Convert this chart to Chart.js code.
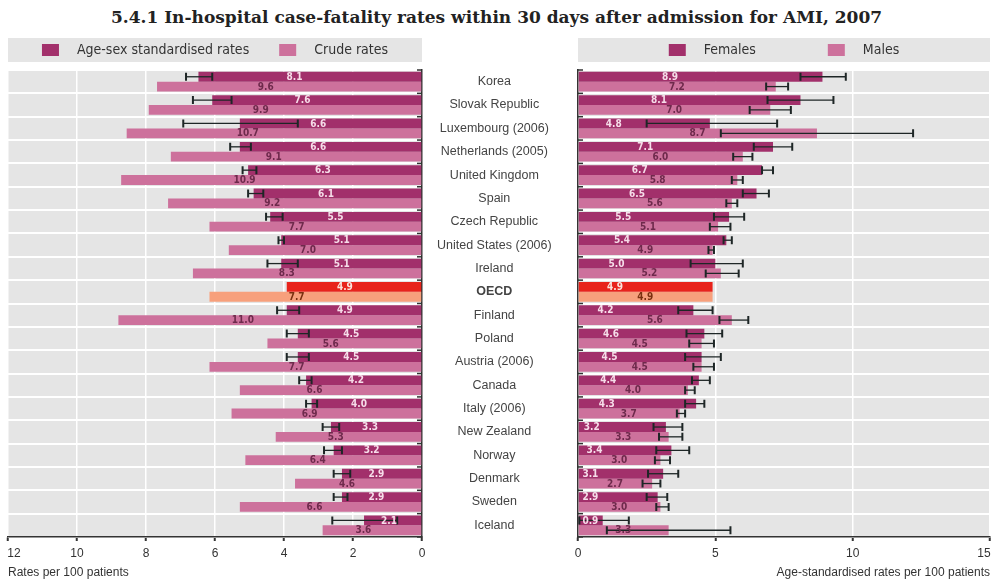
<!DOCTYPE html>
<html>
<head>
<meta charset="utf-8">
<script src="https://cdn.jsdelivr.net/npm/chart.js@4.4.1/dist/chart.umd.min.js"></script>
<style>
body { margin: 0; background: #fff; width: 993px; height: 583px; position: relative; overflow: hidden; }
#title { position: absolute; left: 0; top: 7px; width: 993px; text-align: center; font: bold 17px 'DejaVu Serif', serif; color: #222; }
#left { position: absolute; left: 0; top: 30px; }
#right { position: absolute; left: 570px; top: 30px; }
</style>
</head>
<body>
<div id="title">5.4.1 In-hospital case-fatality rates within 30 days after admission for AMI, 2007</div>
<canvas id="left" width="578" height="553"></canvas>
<canvas id="right" width="423" height="553"></canvas>
<script>
// data
const countries = ['Korea', 'Slovak Republic', 'Luxembourg (2006)', 'Netherlands (2005)', 'United Kingdom', 'Spain',
    'Czech Republic', 'United States (2006)', 'Ireland', 'OECD', 'Finland', 'Poland', 'Austria (2006)', 'Canada',
    'Italy (2006)', 'New Zealand', 'Norway', 'Denmark', 'Sweden', 'Iceland'];

const stdRates = [8.1, 7.6, 6.6, 6.6, 6.3, 6.1, 5.5, 5.1, 5.1, 4.9, 4.9, 4.5, 4.5, 4.2, 4.0, 3.3, 3.2, 2.9, 2.9, 2.1];
const stdLow = [7.6, 6.9, 4.5, 6.2, 6.0, 5.75, 5.05, 5.0, 4.5, null, 4.45, 4.1, 4.1, 4.0, 3.8, 3.0, 2.9, 2.6, 2.7, 0.9];
const stdHigh = [8.55, 8.3, 8.65, 6.95, 6.5, 6.3, 5.65, 5.2, 5.6, null, 5.25, 4.9, 4.9, 4.45, 4.2, 3.6, 3.55, 3.2, 3.2, 3.25];
const crudeRates = [9.6, 9.9, 10.7, 9.1, 10.9, 9.2, 7.7, 7.0, 8.3, 7.7, 11.0, 5.6, 7.7, 6.6, 6.9, 5.3, 6.4, 4.6, 6.6, 3.6];

const females = [8.9, 8.1, 4.8, 7.1, 6.7, 6.5, 5.5, 5.4, 5.0, 4.9, 4.2, 4.6, 4.5, 4.4, 4.3, 3.2, 3.4, 3.1, 2.9, 0.9];
const femLow = [8.1, 6.9, 2.5, 6.4, 6.7, 6.0, 4.95, 5.3, 4.1, null, 3.65, 3.95, 3.9, 4.15, 3.9, 2.75, 2.85, 2.55, 2.5, 0.05];
const femHigh = [9.75, 9.3, 7.25, 7.8, 7.1, 6.95, 6.05, 5.6, 6.0, null, 4.9, 5.25, 5.2, 4.8, 4.6, 3.8, 4.05, 3.65, 3.25, 1.85];
const males = [7.2, 7.0, 8.7, 6.0, 5.8, 5.6, 5.1, 4.9, 5.2, 4.9, 5.6, 4.5, 4.5, 4.0, 3.7, 3.3, 3.0, 2.7, 3.0, 3.3];
const maleLow = [6.85, 6.25, 5.2, 5.65, 5.6, 5.4, 4.8, 4.75, 4.65, null, 5.15, 4.05, 4.2, 3.9, 3.6, 2.95, 2.8, 2.35, 2.85, 1.05];
const maleHigh = [7.65, 7.75, 12.2, 6.35, 6.0, 5.8, 5.55, 4.95, 5.85, null, 6.2, 4.95, 4.95, 4.25, 3.9, 3.8, 3.35, 3.0, 3.3, 5.55];

// tick labels as printed, one per tick step (left: step 2.5, right: step 5)
const leftTickLabels = ['0', '2', '4', '6', '8', '10', '\u200312'];
const rightTickLabels = ['0', '5', '10', '15\u2003'];

const oecdIndex = countries.indexOf('OECD');
const DARK = '#a2306b', PINK = '#cd719c', RED = '#e8231b', ORANGE = '#f7a07c';
const labelFont = 'bold 10px "DejaVu Sans Condensed", "Liberation Sans Narrow", "Liberation Sans", sans-serif';
const axisFont = { family: '"Liberation Sans", Arial, sans-serif', size: 12 };

function colorFor(normal, oecd) {
    return function (ctx) { return ctx.dataIndex === oecdIndex ? oecd : normal; };
}

const panelPlugin = {
    id: 'panel',
    beforeDraw(chart) {
        const ctx = chart.ctx, a = chart.chartArea;
        const opts = chart.options.plugins.panel;
        ctx.save();
        ctx.fillStyle = '#e5e5e5';
        ctx.fillRect(a.left, a.top, a.right - a.left, a.bottom - a.top);
        ctx.fillRect(a.left, a.top - 32, a.right - a.left, 24);

        // legend
        ctx.font = '14px "DejaVu Sans Condensed", "Liberation Sans", sans-serif';
        var total = 0;
        chart.data.datasets.forEach(function (d, i) {
            total += 35 + ctx.measureText(d.label).width + (i ? opts.gap : 0);
        });
        var x = (a.left + a.right) / 2 - total / 2;
        var y = a.top - 20;
        chart.data.datasets.forEach(function (d) {
            ctx.fillStyle = d.legendColor;
            ctx.fillRect(x, y - 6, 17, 12);
            x += 35;
            ctx.fillStyle = '#333';
            ctx.textAlign = 'left';
            ctx.textBaseline = 'middle';
            ctx.fillText(d.label, x, y);
            x += ctx.measureText(d.label).width + opts.gap;
        });
        ctx.restore();
    },
    afterDatasetsDraw(chart) {
        const ctx = chart.ctx, a = chart.chartArea;
        const opts = chart.options.plugins.panel;
        const xs = chart.scales.x, ys = chart.scales.y;
        ctx.save();

        // error bars
        chart.data.datasets.forEach(function (d, di) {
            const meta = chart.getDatasetMeta(di);
            meta.data.forEach(function (el, i) {
                if (d.errLow[i] == null) { return }
                const x1 = xs.getPixelForValue(d.errLow[i]);
                const x2 = xs.getPixelForValue(d.errHigh[i]);
                ctx.strokeStyle = '#1e2626';
                ctx.lineWidth = 1.3;
                ctx.beginPath();
                ctx.moveTo(x1, el.y); ctx.lineTo(x2, el.y);
                ctx.stroke();
                ctx.lineWidth = 2;
                ctx.beginPath();
                ctx.moveTo(x1, el.y - 4); ctx.lineTo(x1, el.y + 4);
                ctx.moveTo(x2, el.y - 4); ctx.lineTo(x2, el.y + 4);
                ctx.stroke();
            });
        });

        // value labels
        ctx.font = labelFont;
        ctx.textAlign = 'center';
        ctx.textBaseline = 'middle';
        chart.data.datasets.forEach(function (d, di) {
            const meta = chart.getDatasetMeta(di);
            meta.data.forEach(function (el, i) {
                const v = d.data[i];
                ctx.fillStyle = i === oecdIndex ? d.oecdLabelColor : d.labelColor;
                ctx.fillText(v.toFixed(1), xs.getPixelForValue(d.labelAt(v)), el.y + 0.5);
            });
        });

        // small ticks between rows on the category axis
        ctx.strokeStyle = '#333';
        ctx.lineWidth = 1.5;
        const n = chart.data.labels.length;
        for (var i = 0; i <= n; i++) {
            var yy;
            if (i === 0) { yy = a.top }
            else if (i === n) { yy = a.bottom }
            else { yy = (ys.getPixelForTick(i - 1) + ys.getPixelForTick(i)) / 2 }
            const bx = opts.side === 'right' ? a.right : a.left;
            const dx = opts.side === 'right' ? -5 : 5;
            ctx.beginPath();
            ctx.moveTo(bx, yy); ctx.lineTo(bx + dx, yy);
            ctx.stroke();
        }
        ctx.restore();
    }
};

function xAxis(reverse, step, tickLabels, title, height) {
    return {
        type: 'linear',
        reverse: reverse,
        min: 0,
        max: 15,
        afterFit: function (scale) {
            scale.height = height;
            scale.paddingLeft = 0;
            scale.paddingRight = 0;
        },
        ticks: {
            stepSize: step,
            color: '#333',
            padding: 5,
            font: axisFont,
            callback: function (value) { return tickLabels[Math.round(value / step)]; }
        },
        grid: { color: '#ffffff', lineWidth: 1.5, drawTicks: true, tickLength: 4, tickColor: '#333', tickWidth: 2 },
        border: { display: true, color: '#333', width: 1.5 },
        title: {
            display: title !== null,
            text: title || '',
            align: 'end',
            color: '#333',
            padding: { top: 0, bottom: 3 },
            font: axisFont
        }
    };
}

new Chart(document.getElementById('left').getContext('2d'), {
    type: 'bar',
    data: {
        labels: countries,
        datasets: [{
            label: 'Age-sex standardised rates',
            data: stdRates,
            errLow: stdLow,
            errHigh: stdHigh,
            backgroundColor: colorFor(DARK, RED),
            legendColor: DARK,
            labelColor: '#f6dde9',
            oecdLabelColor: '#fbe3dc',
            labelAt: function (v) { return v * 0.57; }
        }, {
            label: 'Crude rates',
            data: crudeRates,
            errLow: [],
            errHigh: [],
            backgroundColor: colorFor(PINK, ORANGE),
            legendColor: PINK,
            labelColor: '#6e2a4c',
            oecdLabelColor: '#7a3010',
            labelAt: function (v) { return v * 0.59; }
        }]
    },
    options: {
        indexAxis: 'y',
        responsive: false,
        animation: false,
        devicePixelRatio: 1,
        categoryPercentage: 0.84,
        barPercentage: 1.0,
        layout: { padding: { top: 40, left: 8, right: 0, bottom: 0 } },
        plugins: {
            legend: { display: false },
            tooltip: { enabled: false },
            // the reversed axis flips the scale title, so the left axis title is the chart title at the bottom
            title: {
                display: true,
                position: 'bottom',
                align: 'start',
                text: 'Rates per 100 patients',
                color: '#333',
                padding: { top: 0, bottom: 3 },
                font: { family: axisFont.family, size: 12, weight: 'normal' }
            },
            panel: { gap: 30, side: 'right' }
        },
        scales: {
            x: xAxis(true, 2.5, leftTickLabels, null, 28.6),
            y: {
                position: 'right',
                afterFit: function (scale) {
                    scale.width = 156;
                    scale.paddingTop = 0;
                    scale.paddingBottom = 0;
                },
                grid: { color: '#ffffff', lineWidth: 2, offset: true, drawTicks: false },
                border: { display: true, color: '#333', width: 1.5 },
                ticks: {
                    crossAlign: 'center',
                    padding: 15,
                    color: '#444',
                    autoSkip: false,
                    font: function (ctx) {
                        return {
                            family: axisFont.family,
                            size: 12.5,
                            weight: ctx.index === oecdIndex ? 'bold' : 'normal'
                        };
                    }
                }
            }
        }
    },
    plugins: [panelPlugin]
});

new Chart(document.getElementById('right').getContext('2d'), {
    type: 'bar',
    data: {
        labels: countries,
        datasets: [{
            label: 'Females',
            data: females,
            errLow: femLow,
            errHigh: femHigh,
            backgroundColor: colorFor(DARK, RED),
            legendColor: DARK,
            labelColor: '#f6dde9',
            oecdLabelColor: '#fbe3dc',
            labelAt: function (v) { return Math.max(0.45, (v - 2.2) * 0.5); }
        }, {
            label: 'Males',
            data: males,
            errLow: maleLow,
            errHigh: maleHigh,
            backgroundColor: colorFor(PINK, ORANGE),
            legendColor: PINK,
            labelColor: '#6e2a4c',
            oecdLabelColor: '#7a3010',
            labelAt: function (v) { return v * 0.5; }
        }]
    },
    options: {
        indexAxis: 'y',
        responsive: false,
        animation: false,
        devicePixelRatio: 1,
        categoryPercentage: 0.84,
        barPercentage: 1.0,
        layout: { padding: { top: 40, left: 8, right: 3, bottom: 0 } },
        plugins: {
            legend: { display: false },
            tooltip: { enabled: false },
            panel: { gap: 72, side: 'left' }
        },
        scales: {
            x: xAxis(false, 5, rightTickLabels, 'Age-standardised rates per 100 patients', 46),
            y: {
                position: 'left',
                afterFit: function (scale) {
                    scale.width = 0;
                    scale.paddingTop = 0;
                    scale.paddingBottom = 0;
                },
                grid: { color: '#ffffff', lineWidth: 2, offset: true, drawTicks: false },
                border: { display: true, color: '#333', width: 1.5 },
                ticks: { display: false }
            }
        }
    },
    plugins: [panelPlugin]
});
</script>
</body>
</html>
